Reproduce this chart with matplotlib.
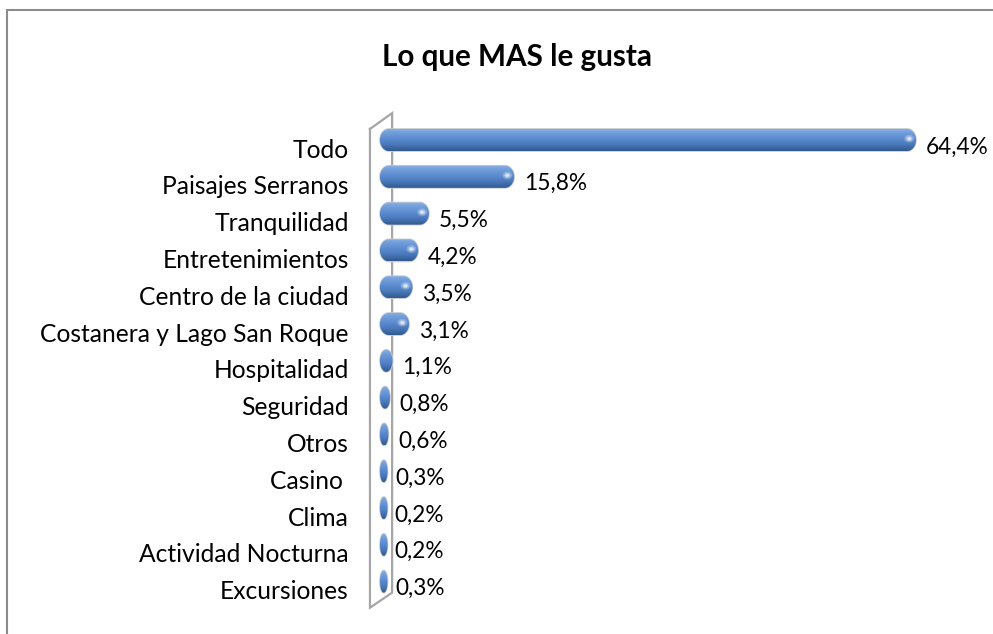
import numpy as np
import matplotlib
matplotlib.use("Agg")
import matplotlib.pyplot as plt
from matplotlib.path import Path
from matplotlib.patches import PathPatch, Ellipse, Rectangle
from matplotlib.colors import LinearSegmentedColormap
from matplotlib.transforms import ScaledTranslation

plt.rcParams['font.family'] = ['Lato', 'DejaVu Sans']

categories = ["Todo", "Paisajes Serranos", "Tranquilidad", "Entretenimientos",
              "Centro de la ciudad", "Costanera y Lago San Roque", "Hospitalidad",
              "Seguridad", "Otros", "Casino ", "Clima", "Actividad Nocturna",
              "Excursiones"]
values = [64.4, 15.8, 5.5, 4.2, 3.5, 3.1, 1.1, 0.8, 0.6, 0.3, 0.2, 0.2, 0.3]
value_labels = ["64,4%", "15,8%", "5,5%", "4,2%", "3,5%", "3,1%", "1,1%",
                "0,8%", "0,6%", "0,3%", "0,2%", "0,2%", "0,3%"]
title = "Lo que MAS le gusta"

W, H = 993, 634
fig = plt.figure(figsize=(W / 100, H / 100), dpi=100)

# axes box in pixels
px_left, px_right, px_top, px_bot = 360, 985, 95, 625
ax = fig.add_axes([px_left / W, (H - px_bot) / H,
                   (px_right - px_left) / W, (px_bot - px_top) / H])

x0_px, xscale = 381.7, 8.27       # pixel of 0 %, pixels per %
y0_px, yscale = 140, 36.8         # pixel of first category, pixels per row
xlim = ((px_left - x0_px) / xscale, (px_right - x0_px) / xscale)
ylim = ((px_bot - y0_px) / yscale, (px_top - y0_px) / yscale)
ax.set_xlim(xlim)
ax.set_ylim(ylim)
for s in ax.spines.values():
    s.set_visible(False)
ax.set_xticks([])

n = len(categories)
ypos = np.arange(n)
bar_h = 0.6
ext = 1.7 / xscale                # cylinder overhang at each end
cap = 9 / xscale                  # max horizontal radius of the rounded ends
min_w = 7.5 / xscale              # thinnest cylinder drawn

cmap = LinearSegmentedColormap.from_list(
    "cyl", [(0.0, "#8DB2E4"), (0.18, "#739FDB"), (0.45, "#5C8CD0"),
            (0.72, "#4A78BA"), (1.0, "#30598F")])
grad = np.linspace(0, 1, 64).reshape(-1, 1)

t_right = np.linspace(-np.pi / 2, np.pi / 2, 40)
t_left = np.linspace(np.pi / 2, 3 * np.pi / 2, 40)

# wall (3D axis plane)
wall_back = -1.42
wall_front = 1.26
ax.plot([wall_back, wall_back, wall_front, wall_front, wall_back],
        [-0.3, n - 1 + 0.71, n - 1 + 0.30, -0.73, -0.3],
        color="#A6A6A6", lw=1.6, solid_joinstyle="miter", zorder=1)

for y, v, lab in zip(ypos, values, value_labels):
    ry = bar_h / 2
    xl = -ext
    xr = max(v + ext, xl + min_w)
    r = min((xr - xl) / 2, cap)
    xs = np.concatenate([xr - r + r * np.cos(t_right), xl + r + r * np.cos(t_left)])
    ys = np.concatenate([y + ry * np.sin(t_right), y + ry * np.sin(t_left)])
    verts = np.column_stack([xs, ys])
    path = Path(np.vstack([verts, verts[:1]]),
                [Path.MOVETO] + [Path.LINETO] * len(verts))
    shadow = PathPatch(path, facecolor="none", edgecolor="#C8CDD4",
                       lw=1.2, zorder=2)
    ax.add_patch(shadow)
    patch = PathPatch(path, facecolor="none", edgecolor="none", zorder=3)
    ax.add_patch(patch)
    im = ax.imshow(grad, cmap=cmap, aspect="auto", interpolation="bicubic",
                   extent=(xl, xr, y + ry, y - ry), zorder=3)
    im.set_clip_path(patch)
    if v >= 3:
        for k, a in [(1.0, 0.25), (0.6, 0.45), (0.3, 0.6)]:
            hl = Ellipse((xr - r * 0.75, y - ry * 0.12),
                         width=r * 1.1 * k, height=ry * 0.7 * k,
                         facecolor="white", alpha=a, edgecolor="none", zorder=4)
            hl.set_clip_path(patch)
            ax.add_patch(hl)
    ax.annotate(lab, xy=(v + ext, y), xytext=(7, -5), textcoords="offset points",
                ha="left", va="center", fontsize=16.3, color="black")

ax.set_xlim(xlim)
ax.set_ylim(ylim)

ax.set_yticks(ypos)
ax.set_yticklabels(categories, fontsize=17.7)
ax.tick_params(axis="y", length=0, pad=8)
offset = ScaledTranslation(0, -0.08, fig.dpi_scale_trans)
for lbl in ax.get_yticklabels():
    lbl.set_transform(lbl.get_transform() + offset)

fig.text(517 / W, 1 - 57 / H, title, ha="center", va="center",
         fontsize=21.3, fontweight="bold")

# outer chart border
fig.patches.append(Rectangle((6.5 / W, -0.1), 2, 1 + 0.1 - 10.5 / H,
                             transform=fig.transFigure, fill=False,
                             edgecolor="#8C8C8C", lw=1.5))

fig.savefig("out.png", dpi=100)
